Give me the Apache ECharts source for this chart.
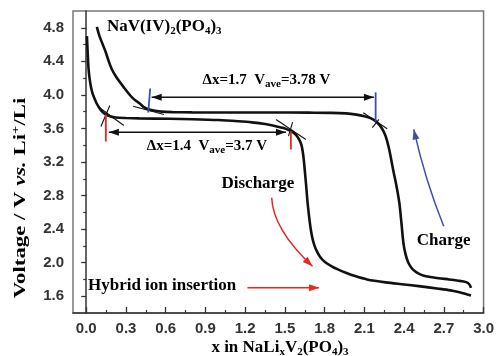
<!DOCTYPE html>
<html><head><meta charset="utf-8">
<script src="https://cdn.jsdelivr.net/npm/echarts@6/dist/echarts.min.js"></script>
<style>html,body{margin:0;padding:0;background:#fff}#c{width:497px;height:356px}</style>
</head><body><div id="c"></div>
<script>
// ---- data ----
const xTickValues = [0.0, 0.3, 0.6, 0.9, 1.2, 1.5, 1.8, 2.1, 2.4, 2.7, 3.0];
const xMinorTicks = [0.15, 0.45, 0.75, 1.05, 1.35, 1.65, 1.95, 2.25, 2.55, 2.85];
const yTickValues = [1.6, 2.0, 2.4, 2.8, 3.2, 3.6, 4.0, 4.4, 4.8];
const yMinorTicks = [1.8, 2.2, 2.6, 3.0, 3.4, 3.8, 4.2, 4.6];

const dischargeX = [0.005, 0.008, 0.011, 0.014, 0.018, 0.025, 0.035, 0.047, 0.06, 0.078, 0.098, 0.12, 0.148, 0.185, 0.223, 0.3, 0.4, 0.63, 0.8, 1.0, 1.15, 1.25, 1.35, 1.43, 1.49, 1.53, 1.565, 1.59, 1.61, 1.625, 1.635, 1.643, 1.65, 1.657, 1.664, 1.671, 1.679, 1.688, 1.697, 1.708, 1.722, 1.74, 1.765, 1.80, 1.85, 1.90, 1.96, 2.03, 2.12, 2.26, 2.4, 2.51, 2.66, 2.75, 2.81, 2.86, 2.905];
const dischargeV = [4.70, 4.60, 4.50, 4.40, 4.30, 4.20, 4.10, 4.02, 3.965, 3.90, 3.846, 3.80, 3.765, 3.742, 3.73, 3.724, 3.72, 3.715, 3.71, 3.70, 3.685, 3.672, 3.652, 3.627, 3.605, 3.58, 3.55, 3.51, 3.46, 3.40, 3.32, 3.22, 3.10, 2.98, 2.85, 2.72, 2.60, 2.48, 2.38, 2.29, 2.21, 2.14, 2.07, 2.01, 1.96, 1.92, 1.88, 1.84, 1.80, 1.765, 1.74, 1.72, 1.69, 1.67, 1.65, 1.63, 1.61];

const chargeX = [2.905, 2.895, 2.88, 2.85, 2.81, 2.74, 2.66, 2.60, 2.55, 2.51, 2.48, 2.455, 2.435, 2.42, 2.408, 2.398, 2.39, 2.383, 2.375, 2.365, 2.352, 2.338, 2.322, 2.306, 2.29, 2.275, 2.26, 2.24, 2.215, 2.185, 2.15, 2.10, 2.04, 1.96, 1.85, 1.68, 1.4, 1.1, 0.8, 0.65, 0.57, 0.52, 0.474, 0.435, 0.404, 0.375, 0.349, 0.318, 0.286, 0.255, 0.223, 0.195, 0.17, 0.148, 0.125, 0.10, 0.08];
const chargeV = [1.70, 1.735, 1.76, 1.775, 1.785, 1.80, 1.815, 1.83, 1.845, 1.87, 1.90, 1.94, 1.99, 2.05, 2.12, 2.20, 2.30, 2.42, 2.55, 2.70, 2.83, 2.95, 3.07, 3.20, 3.33, 3.43, 3.51, 3.58, 3.64, 3.687, 3.72, 3.745, 3.765, 3.78, 3.786, 3.788, 3.79, 3.79, 3.792, 3.795, 3.80, 3.81, 3.826, 3.855, 3.897, 3.93, 3.965, 4.02, 4.085, 4.15, 4.223, 4.30, 4.40, 4.505, 4.60, 4.70, 4.81];

// ---- styles ----
const SERIF = '"Liberation Serif","Times New Roman",serif';
const SANS = '"Liberation Sans",Arial,sans-serif';
const RED = '#e8251e';
const BLUE = '#3a4fa6';
const TXT = '#2a2a2a';

const zip = (a, b) => a.map((v, i) => [v, b[i]]);

const chart = echarts.init(document.getElementById('c'), null, {renderer: 'canvas'});

const baseX = {type: 'value', min: -0.1, max: 3.0, position: 'bottom', splitLine: {show: false}};
const baseY = {type: 'value', min: 1.4, max: 5.0, position: 'left', splitLine: {show: false}};

chart.setOption({
  animation: false,
  backgroundColor: '#fff',
  grid: {left: 73, right: 12, top: 11, bottom: 43, show: true, borderColor: '#777', borderWidth: 1.5, containLabel: false},
  xAxis: [
    Object.assign({}, baseX, {
      axisLine: {show: true, lineStyle: {color: '#333', width: 1.5}},
      axisTick: {show: true, inside: true, length: 6, lineStyle: {color: '#333', width: 1.3}, customValues: xTickValues},
      axisLabel: {show: true, customValues: xTickValues, margin: 8, formatter: v => v.toFixed(1), color: '#333', fontFamily: SANS, fontWeight: 'bold', fontSize: 15}
    }),
    Object.assign({}, baseX, {
      axisLine: {show: false},
      axisTick: {show: true, inside: true, length: 3, lineStyle: {color: '#333', width: 1.2}, customValues: xMinorTicks},
      axisLabel: {show: false}
    })
  ],
  yAxis: [
    Object.assign({}, baseY, {
      axisLine: {show: true, lineStyle: {color: '#333', width: 1.5}},
      axisTick: {show: true, inside: false, length: 5, lineStyle: {color: '#333', width: 1.3}, customValues: yTickValues},
      axisLabel: {show: true, customValues: yTickValues, margin: 9, formatter: v => v.toFixed(1), color: '#333', fontFamily: SANS, fontWeight: 'bold', fontSize: 15}
    }),
    Object.assign({}, baseY, {
      axisLine: {show: false},
      axisTick: {show: true, inside: false, length: 3, lineStyle: {color: '#333', width: 1.2}, customValues: yMinorTicks},
      axisLabel: {show: false}
    })
  ],
  series: [
    {type: 'line', name: 'Discharge', xAxisIndex: 0, yAxisIndex: 0, data: zip(dischargeX, dischargeV), showSymbol: false, smooth: 0.3, lineStyle: {color: '#111', width: 2.6}},
    {type: 'line', name: 'Charge', xAxisIndex: 0, yAxisIndex: 0, data: zip(chargeX, chargeV), showSymbol: false, smooth: 0.3, lineStyle: {color: '#111', width: 2.6}}
  ]
});

const P = (x, y) => chart.convertToPixel({xAxisIndex: 0, yAxisIndex: 0}, [x, y]);

function seg(a, b, color, w) {
  const p = P(a[0], a[1]), q = P(b[0], b[1]);
  return {type: 'line', z: 20, shape: {x1: p[0], y1: p[1], x2: q[0], y2: q[1]}, style: {stroke: color, lineWidth: w}};
}
function head(tip, from, color, len, w) {
  const dx = tip[0] - from[0], dy = tip[1] - from[1];
  const d = Math.hypot(dx, dy), ux = dx / d, uy = dy / d;
  const bx = tip[0] - ux * len, by = tip[1] - uy * len;
  return {type: 'polygon', z: 21, shape: {points: [tip, [bx - uy * w, by + ux * w], [bx + uy * w, by - ux * w]]}, style: {fill: color}};
}
function arrow(a, b, color, w, both) {
  const p = P(a[0], a[1]), q = P(b[0], b[1]);
  const out = [{type: 'line', z: 20, shape: {x1: p[0], y1: p[1], x2: q[0], y2: q[1]}, style: {stroke: color, lineWidth: w}}];
  out.push(head(q, p, color, 10, 3.5));
  if (both) out.push(head(p, q, color, 10, 3.5));
  return out;
}
function curveArrow(a, c, b, color, w) {
  const p = P(a[0], a[1]), k = P(c[0], c[1]), q = P(b[0], b[1]);
  return [
    {type: 'bezierCurve', z: 20, shape: {x1: p[0], y1: p[1], cpx1: k[0], cpy1: k[1], x2: q[0], y2: q[1]}, style: {stroke: color, lineWidth: w, fill: null}},
    head(q, k, color, 10, 3.5)
  ];
}
function txt(x, y, rich, text, align) {
  const p = P(x, y);
  return {type: 'text', z: 30, x: p[0], y: p[1], style: {text: text, rich: rich, textAlign: align || 'left', textVerticalAlign: 'middle'}};
}

const big = {fontFamily: SERIF, fontWeight: 'bold', fontSize: 17, color: TXT, lineHeight: 18, padding: [0, 0, 2, 0], verticalAlign: 'bottom'};
const bigSub = {fontFamily: SERIF, fontWeight: 'bold', fontSize: 11, color: TXT, lineHeight: 11, verticalAlign: 'bottom'};
const mid = {fontFamily: SERIF, fontWeight: 'bold', fontSize: 15, color: TXT, lineHeight: 16, padding: [0, 0, 2, 0], verticalAlign: 'bottom'};
const midSub = {fontFamily: SERIF, fontWeight: 'bold', fontSize: 11, color: TXT, lineHeight: 11, verticalAlign: 'bottom'};
const richBig = {a: big, s: bigSub};
const richMid = {a: mid, s: midSub};

let g = [];
// tangent lines
g.push(seg([0.088, 3.862], [0.284, 3.635], '#111', 1.1));
g.push(seg([0.178, 3.874], [0.111, 3.623], '#111', 1.1));
g.push(seg([0.354, 3.865], [0.587, 3.766], '#111', 1.1));
g.push(seg([1.433, 3.707], [1.658, 3.468], '#111', 1.1));
g.push(seg([1.558, 3.675], [1.527, 3.508], '#111', 1.1));
g.push(seg([2.092, 3.787], [2.272, 3.596], '#111', 1.1));
g.push(seg([2.21, 3.707], [2.16, 3.61], '#111', 1.1));
// markers
g.push(seg([0.483, 4.076], [0.468, 3.79], BLUE, 1.8));
g.push(seg([2.185, 4.03], [2.185, 3.68], BLUE, 1.8));
g.push(seg([0.148, 3.766], [0.148, 3.444], RED, 1.8));
g.push(seg([1.545, 3.567], [1.545, 3.349], RED, 1.8));
// dimension arrows
g = g.concat(arrow([0.494, 3.973], [2.172, 3.973], '#111', 1.5, true));
g = g.concat(arrow([0.171, 3.556], [1.508, 3.556], '#111', 1.5, true));
// red / blue arrows
g = g.concat(arrow([1.217, 1.70], [1.758, 1.70], RED, 1.5, false));
g = g.concat(curveArrow([1.40, 2.774], [1.411, 2.396], [1.708, 1.958], RED, 1.5));
g = g.concat(curveArrow([2.699, 2.435], [2.561, 2.971], [2.473, 3.588], BLUE, 1.5));
// texts
g.push(txt(0.156, 4.80, richBig, '{a|NaV(IV)}{s|2}{a|(PO}{s|4}{a|)}{s|3}'));
g.push(txt(0.878, 4.16, richMid, '{a|\u0394x=1.7  V}{s|ave}{a|=3.78 V}'));
g.push(txt(0.457, 3.373, richMid, '{a|\u0394x=1.4  V}{s|ave}{a|=3.7 V}'));
g.push(txt(1.021, 2.93, richBig, '{a|Discharge}'));
g.push(txt(0.013, 1.713, richBig, '{a|Hybrid ion insertion}'));
g.push(txt(2.496, 2.244, richBig, '{a|Charge}'));

// axis titles
g.push({type: 'text', z: 30, x: 280, y: 349, style: {text: '{a|x in NaLi}{s|x}{a|V}{s|2}{a|(PO}{s|4}{a|)}{s|3}', rich: richBig, textAlign: 'center', textVerticalAlign: 'middle'}});
g.push({type: 'text', z: 30, x: 20, y: 198, rotation: Math.PI / 2, scaleX: 1.34, scaleY: 1, style: {
  text: '{a|Voltage / V }{i|vs.}{a| Li}{p|+}{a|/Li}',
  rich: {
    a: {fontFamily: SERIF, fontWeight: 'bold', fontSize: 17, color: TXT, lineHeight: 18, verticalAlign: 'bottom'},
    i: {fontFamily: SERIF, fontWeight: 'bold', fontStyle: 'italic', fontSize: 17, color: TXT, lineHeight: 18, verticalAlign: 'bottom'},
    p: {fontFamily: SERIF, fontWeight: 'bold', fontSize: 11, color: TXT, lineHeight: 11, verticalAlign: 'top'}
  },
  textAlign: 'center', textVerticalAlign: 'middle'}});

chart.setOption({graphic: g});
</script>
</body></html>
